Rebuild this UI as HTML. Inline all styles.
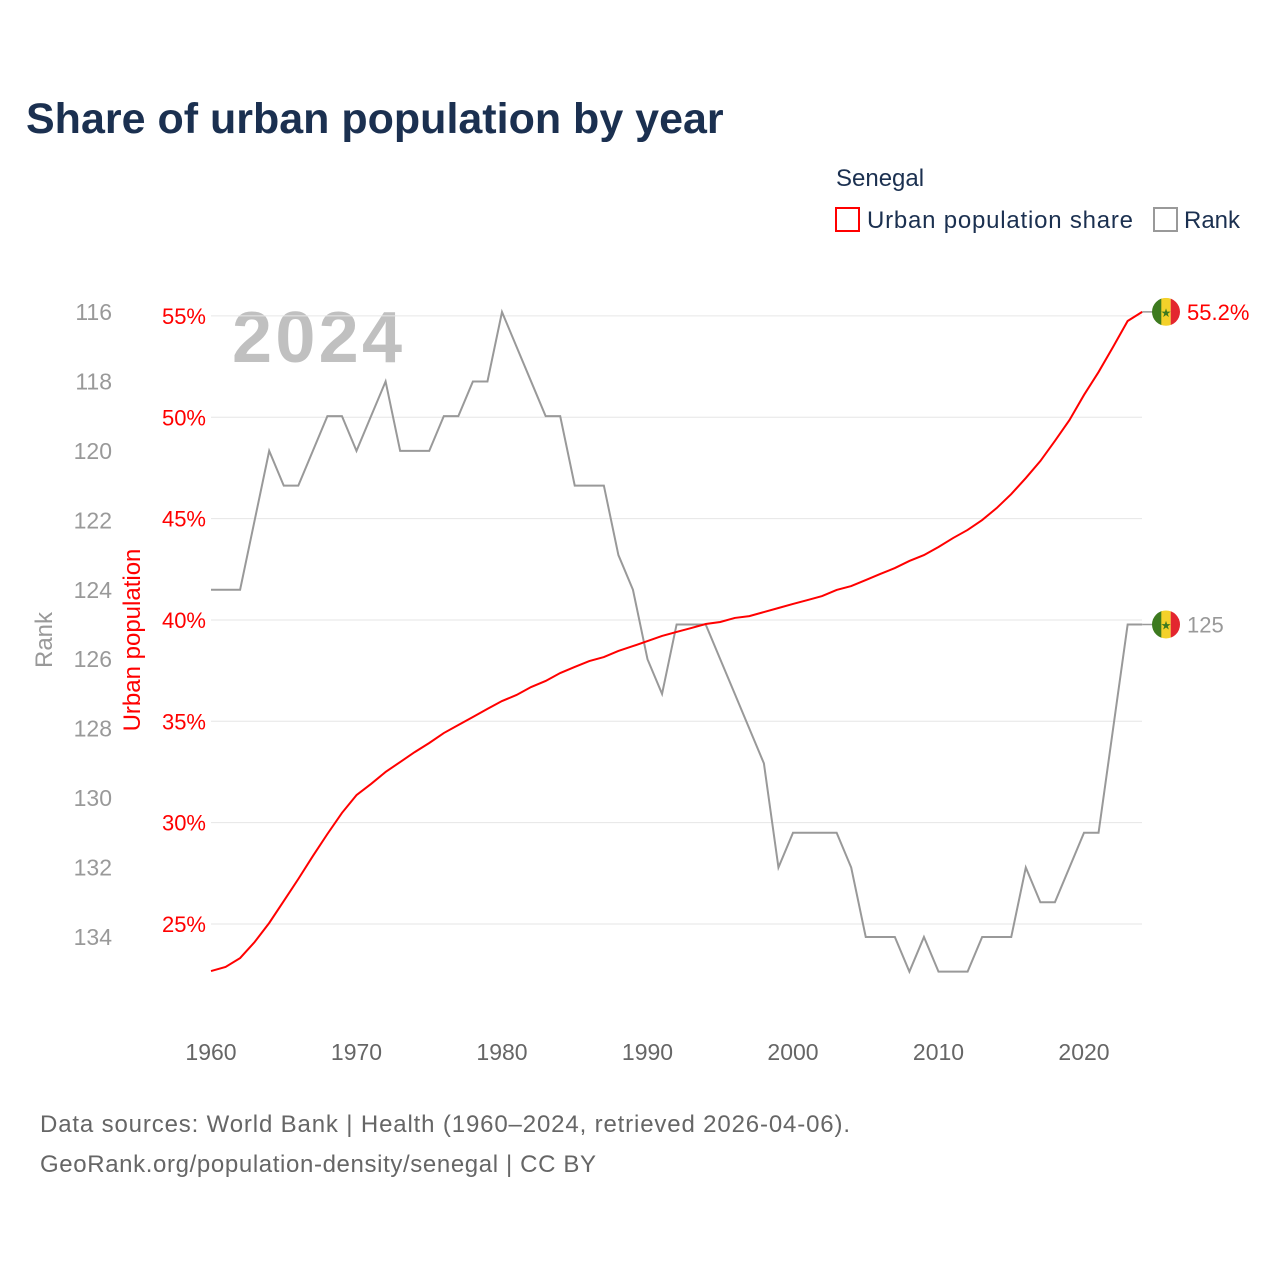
<!DOCTYPE html>
<html><head><meta charset="utf-8"><style>
body{margin:0;background:#fff;font-family:"Liberation Sans",sans-serif}
svg text{font-family:"Liberation Sans",sans-serif}
</style></head><body>
<svg id="c" width="1280" height="1280" xmlns="http://www.w3.org/2000/svg">
<text x="26" y="133" font-size="43" font-weight="bold" fill="#1b3050">Share of urban population by year</text>
<text x="836" y="186" font-size="24" fill="#1b3050">Senegal</text>
<g><rect x="836" y="208" width="23" height="23" fill="none" stroke="red" stroke-width="2"/><text x="867" y="228" font-size="24" fill="#1b3050" textLength="266">Urban population share</text></g>
<g><rect x="1154" y="208" width="23" height="23" fill="none" stroke="#999" stroke-width="2"/><text x="1184" y="228" font-size="24" fill="#1b3050">Rank</text></g>
<text x="232" y="362" font-size="72" font-weight="bold" fill="#c0c0c0" textLength="170">2024</text>
<g id="grid"></g><g id="ax"></g><g id="lines"></g>
<text transform="translate(52,640) rotate(-90)" text-anchor="middle" font-size="24" fill="#999">Rank</text>
<text transform="translate(140,640) rotate(-90)" text-anchor="middle" font-size="24" fill="red">Urban population</text>
<text x="40" y="1132" font-size="24" fill="#666" textLength="810">Data sources: World Bank | Health (1960–2024, retrieved 2026-04-06).</text>
<text x="40" y="1172" font-size="24" fill="#666" textLength="556">GeoRank.org/population-density/senegal | CC BY</text>
</svg>
<script>
const years=[];for(let y=1960;y<=2024;y++)years.push(y);
const urban=[22.68,22.88,23.32,24.11,25.05,26.13,27.22,28.35,29.44,30.48,31.36,31.91,32.5,32.99,33.48,33.93,34.42,34.82,35.21,35.61,36.0,36.3,36.69,36.99,37.38,37.68,37.97,38.17,38.47,38.71,38.96,39.21,39.41,39.6,39.8,39.9,40.1,40.19,40.39,40.59,40.79,40.98,41.18,41.48,41.67,41.97,42.27,42.56,42.91,43.2,43.6,44.04,44.44,44.93,45.52,46.21,47.0,47.84,48.83,49.86,51.1,52.23,53.47,54.75,55.2];
const rank=[124,124,124,122,120,121,121,120,119,119,120,119,118,120,120,120,119,119,118,118,116,117,118,119,119,121,121,121,123,124,126,127,125,125,125,126,127,128,129,132,131,131,131,131,132,134,134,134,135,134,135,135,135,134,134,134,132,133,133,132,131,131,128,125,125];
const xTicks=[1960,1970,1980,1990,2000,2010,2020];
const urbanTicks=[25,30,35,40,45,50,55];
const rankTicks=[116,118,120,122,124,126,128,130,132,134];
const X=y=>211+(y-1960)*14.55, YU=v=>924-(v-25)*20.27, YR=r=>312+(r-116)*34.72;
const NS="http://www.w3.org/2000/svg";
function mk(p,t,a){const e=document.createElementNS(NS,t);for(const k in a)e.setAttribute(k,a[k]);p.appendChild(e);return e;}
const grid=document.getElementById('grid'),ax=document.getElementById('ax'),L=document.getElementById('lines');
urbanTicks.forEach(v=>{const l=mk(grid,'line',{x1:211,x2:1142,y1:YU(v),y2:YU(v),stroke:'#e6e6e6','stroke-width':1});

const t=mk(ax,'text',{x:206,y:YU(v)+8,'text-anchor':'end','font-size':22,fill:'red'});t.textContent=v+'%';
});
rankTicks.forEach(r=>{const t=mk(ax,'text',{x:112,y:YR(r)+8,'text-anchor':'end','font-size':23,fill:'#999'});t.textContent=r;
});
xTicks.forEach(y=>{const t=mk(ax,'text',{x:X(y),y:1060,'text-anchor':'middle','font-size':23,fill:'#666'});t.textContent=y;
});
const pr=mk(L,'path',{d:'M'+years.map((y,i)=>X(y)+','+YR(rank[i])).join('L'),fill:'none',stroke:'#999','stroke-width':2});

const pu=mk(L,'path',{d:'M'+years.map((y,i)=>X(y)+','+YU(urban[i])).join('L'),fill:'none',stroke:'red','stroke-width':2});

function flag(cy,name){const cx=1166;const g=mk(L,'g',{});

mk(g,'line',{x1:X(2024),x2:cx,y1:cy,y2:cy,stroke:'#999','stroke-width':1.5});
const cp='cp'+Math.round(cy);const d=mk(g,'clipPath',{id:cp});mk(d,'circle',{cx:cx,cy:cy,r:14});
const gg=mk(g,'g',{'clip-path':'url(#'+cp+')'});
mk(gg,'rect',{x:cx-14,y:cy-14,width:10,height:28,fill:'#3d7a1f'});mk(gg,'rect',{x:cx-4.7,y:cy-14,width:9.4,height:28,fill:'#f4d12a'});mk(gg,'rect',{x:cx+4.7,y:cy-14,width:10,height:28,fill:'#e3262f'});
const s=mk(g,'text',{x:cx,y:cy+5,'text-anchor':'middle','font-size':12,fill:'#3d7a1f'});s.textContent='★';}
const last=years.length-1;
flag(YU(urban[last]),'urban-end-flag');flag(YR(rank[last]),'rank-end-flag');
const lu=mk(L,'text',{x:1187,y:YU(urban[last])+8,'font-size':22,fill:'red'});lu.textContent=urban[last].toFixed(1)+'%';

const lr=mk(L,'text',{x:1187,y:YR(rank[last])+8,'font-size':22,fill:'#999'});lr.textContent=rank[last];

</script>
</body></html>
